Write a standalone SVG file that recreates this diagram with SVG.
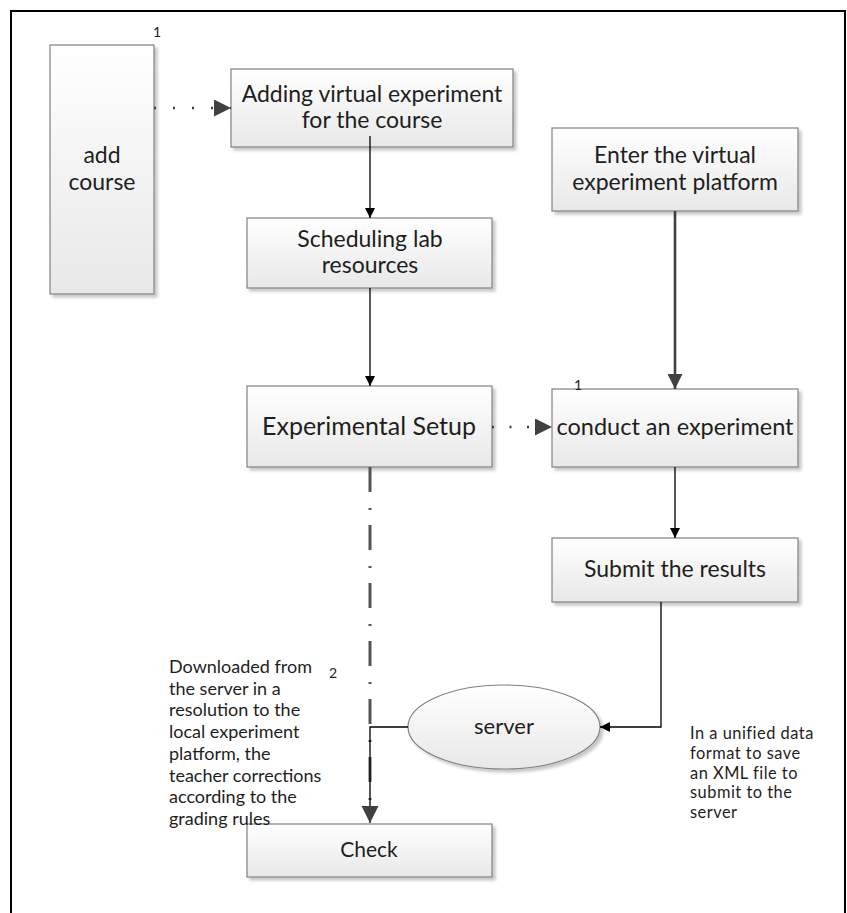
<svg xmlns="http://www.w3.org/2000/svg" width="847" height="913" viewBox="0 0 847 913">
<defs>
<linearGradient id="g" x1="0" y1="0" x2="0" y2="1">
<stop offset="0" stop-color="#ffffff"/>
<stop offset="1" stop-color="#e8e8e8"/>
</linearGradient>
<filter id="sh" x="-10%" y="-10%" width="130%" height="130%">
<feDropShadow dx="3" dy="3" stdDeviation="1.5" flood-color="#000" flood-opacity="0.22"/>
</filter>
<marker id="aSmall" viewBox="0 0 10 10" refX="10" refY="5" markerWidth="10" markerHeight="10" markerUnits="userSpaceOnUse" orient="auto">
<path d="M0,0 L10,5 L0,10 z" fill="#000"/>
</marker>
<marker id="aBig" viewBox="0 0 10 10" refX="10" refY="5" markerWidth="15" markerHeight="15" markerUnits="userSpaceOnUse" orient="auto">
<path d="M0,0 L10,5 L0,10 z" fill="#404040"/>
</marker>
<marker id="aBig2" viewBox="0 0 10 10" refX="10" refY="5" markerWidth="17" markerHeight="18" markerUnits="userSpaceOnUse" orient="auto">
<path d="M0,0 L10,5 L0,10 z" fill="#404040"/>
</marker>
<marker id="aDot" viewBox="0 0 10 10" refX="10" refY="5" markerWidth="18" markerHeight="17" markerUnits="userSpaceOnUse" orient="auto">
<path d="M0,0 L10,5 L0,10 z" fill="#404040"/>
</marker>
</defs>
<style>
.box{fill:url(#g);stroke:#808080;stroke-width:1.2;filter:url(#sh)}
.t{font-family:Lato,"Open Sans",sans-serif;font-size:23px;fill:#1e1e1e;text-anchor:middle}
.note{font-family:Lato,"Open Sans",sans-serif;font-size:18px;fill:#1e1e1e}
.note2{font-family:Lato,"Open Sans",sans-serif;font-size:16.4px;letter-spacing:0.5px;fill:#1e1e1e}
.lbl{font-family:Lato,"Open Sans",sans-serif;font-size:14px;fill:#1e1e1e}
.thin{fill:none;stroke:#000;stroke-width:1.3}
.thick{fill:none;stroke:#404040;stroke-width:2.6}
.dots{fill:none;stroke:#404040;stroke-width:2.5}
.dashdot{fill:none;stroke:#555;stroke-width:3;stroke-dasharray:25 16 2 15}
</style>
<rect width="847" height="913" fill="#fff"/>
<path d="M11,913 V11 H845 V913" fill="none" stroke="#000" stroke-width="2"/>

<g id="add-course">
<rect class="box" x="50" y="45" width="104" height="249"/>
<text class="t" x="102" y="163">add</text>
<text class="t" x="102" y="190">course</text>
<text class="lbl" x="153" y="37">1</text>
</g>
<g id="adding-virtual">
<rect class="box" x="231" y="69" width="282" height="78"/>
<text class="t" x="372" y="102">Adding virtual experiment</text>
<text class="t" x="372" y="128">for the course</text>
</g>
<g id="scheduling">
<rect class="box" x="247" y="218" width="245" height="70"/>
<text class="t" x="370" y="247">Scheduling lab</text>
<text class="t" x="370" y="273">resources</text>
</g>
<g id="enter-platform">
<rect class="box" x="552" y="128" width="246" height="83"/>
<text class="t" x="675" y="163">Enter the virtual</text>
<text class="t" x="675" y="190">experiment platform</text>
</g>
<g id="experimental-setup">
<rect class="box" x="247" y="386" width="245" height="81"/>
<text class="t" x="369" y="435" style="font-size:25px">Experimental Setup</text>
</g>
<g id="conduct">
<rect class="box" x="552" y="389" width="246" height="78"/>
<text class="t" x="675" y="435" style="font-size:23.5px">conduct an experiment</text>
<text class="lbl" x="574" y="390">1</text>
</g>
<g id="submit">
<rect class="box" x="552" y="538" width="246" height="64"/>
<text class="t" x="675" y="577">Submit the results</text>
</g>
<g id="server">
<ellipse class="box" cx="504" cy="727" rx="96" ry="42"/>
<text class="t" x="504" y="734" style="font-size:22px">server</text>
</g>
<g id="check">
<rect class="box" x="247" y="824" width="245" height="53"/>
<text class="t" x="369" y="857" style="font-size:21px">Check</text>
</g>

<g id="notes">
<text class="note" x="169" y="673">Downloaded from</text>
<text class="note" x="169" y="694.7">the server in a</text>
<text class="note" x="169" y="716.4">resolution to the</text>
<text class="note" x="169" y="738.1">local experiment</text>
<text class="note" x="169" y="759.8">platform, the</text>
<text class="note" x="169" y="781.5">teacher corrections</text>
<text class="note" x="169" y="803.2">according to the</text>
<text class="note" x="169" y="824.9">grading rules</text>
<text class="lbl" x="329" y="678">2</text>
<text class="note2" x="690" y="739">In a unified data</text>
<text class="note2" x="690" y="758.8">format to save</text>
<text class="note2" x="690" y="778.6">an XML file to</text>
<text class="note2" x="690" y="798.4">submit to the</text>
<text class="note2" x="690" y="818.2">server</text>
</g>

<g id="connectors">
<path class="dots" d="M154,108 H231" stroke-dasharray="2 17" marker-end="url(#aDot)"/>
<path class="thin" d="M370,136 V218" marker-end="url(#aSmall)"/>
<path class="thin" d="M370,288 V386" marker-end="url(#aSmall)"/>
<path class="thick" d="M675,211 V389" marker-end="url(#aBig)"/>
<path class="dots" d="M492,427 H552" stroke-dasharray="2 15.5" marker-end="url(#aDot)"/>
<path class="thin" d="M675,467 V538" marker-end="url(#aSmall)"/>
<path class="thin" d="M661,602 V727 H600" marker-end="url(#aSmall)"/>
<path class="dashdot" d="M370,467 V808"/>
<path class="thin" d="M408,727 H370 V823" marker-end="url(#aBig2)"/>
</g>
</svg>
